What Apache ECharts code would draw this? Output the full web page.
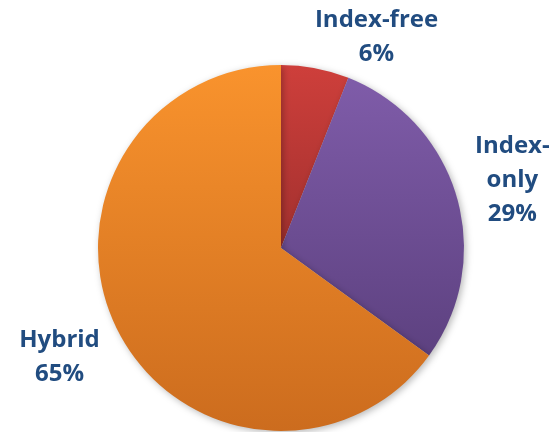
<!DOCTYPE html>
<html>
<head>
<meta charset="utf-8">
<script src="https://cdn.jsdelivr.net/npm/echarts@6/dist/echarts.min.js"></script>
<style>
  html, body { margin: 0; padding: 0; background: #ffffff; }
  #chart { width: 551px; height: 432px; }
</style>
</head>
<body>
<div id="chart"></div>
<script>
// Share of approaches (percent of total)
const categories = ['Index-free', 'Index-only', 'Hybrid'];
const shares = [6, 29, 65];
// Wrapped label text for each category
const labelLines = [['Index-free'], ['Index-', 'only'], ['Hybrid']];

// Vertical gradient per slice: [top, bottom]
const sliceColors = [
  ['#ce3f3b', '#a2302e'],
  ['#7f5ca9', '#5d4180'],
  ['#f9932d', '#cc6c1e']
];

const center = [281, 248];
const radius = 183;
const labelDistance = 243;

// Mid-angle of each slice (clockwise from 12 o'clock), from the cumulative shares
const total = shares.reduce((a, b) => a + b, 0);
const midAngles = [];
let acc = 0;
shares.forEach(v => { midAngles.push((acc + v / 2) / total * 2 * Math.PI); acc += v; });

// The small slice's label is pushed outward to the right so it clears the rim
const labelShift = [[50, 28], [-2, 0], [-5, -1]];

const chart = echarts.init(document.getElementById('chart'), null, { renderer: 'canvas' });
chart.setOption({
  animation: false,
  backgroundColor: '#ffffff',
  series: [{
    type: 'pie',
    center: center,
    radius: radius,
    startAngle: 90,
    clockwise: true,
    avoidLabelOverlap: false,
    data: categories.map((name, i) => ({
      name: name,
      value: shares[i],
      itemStyle: {
        color: new echarts.graphic.LinearGradient(0, 0, 0, 1, [
          { offset: 0, color: sliceColors[i][0] },
          { offset: 1, color: sliceColors[i][1] }
        ])
      }
    })),
    itemStyle: {
      borderWidth: 0,
      shadowBlur: 7,
      shadowOffsetX: 2,
      shadowOffsetY: 2,
      shadowColor: 'rgba(0,0,0,0.28)'
    },
    label: {
      show: true,
      position: 'outside',
      formatter: p => labelLines[p.dataIndex].concat([p.value + '%']).join('\n'),
      fontFamily: '"Open Sans", Lato, sans-serif',
      fontWeight: 'bold',
      fontSize: 24,
      lineHeight: 34,
      color: '#214c80',
      align: 'center'
    },
    labelLine: { show: false },
    labelLayout: p => {
      const i = p.dataIndex;
      const a = midAngles[i];
      return {
        x: center[0] + labelDistance * Math.sin(a) + labelShift[i][0],
        y: center[1] - labelDistance * Math.cos(a) + labelShift[i][1],
        align: 'center',
        verticalAlign: 'middle'
      };
    },
    emphasis: { disabled: true }
  }]
});
</script>
</body>
</html>
